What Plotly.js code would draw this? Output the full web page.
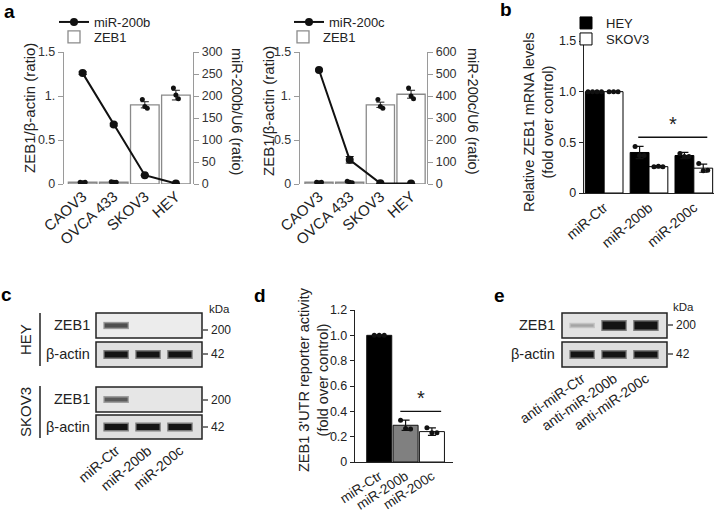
<!DOCTYPE html>
<html><head><meta charset="utf-8">
<script src="https://cdn.plot.ly/plotly-3.0.1.min.js"></script>
<style>html,body{margin:0;padding:0;background:#fff}#chart{width:718px;height:512px}</style>
</head><body><div id="chart"></div>
<script>
// ================= DATA =================
// panel a
const cellLines = ["CAOV3", "OVCA 433", "SKOV3", "HEY"];
const zeb1RatioA1 = [0.02, 0.02, 0.90, 1.01];
const zeb1ErrA1 = [0.005, 0.005, 0.035, 0.055];
const zeb1DotsA1 = [[0.02, 0.015, 0.02], [0.025, 0.02, 0.02], [0.96, 0.88, 0.86], [1.09, 1.01, 0.97]];
const miR200bLevels = [252, 135, 20, 1];
const miR200bErr = [3, 3, 1, 0];
const zeb1RatioA2 = [0.02, 0.02, 0.90, 1.02];
const zeb1ErrA2 = [0.005, 0.005, 0.03, 0.045];
const zeb1DotsA2 = [[0.02, 0.015, 0.02], [0.03, 0.02, 0.015], [0.96, 0.88, 0.86], [1.09, 1.00, 0.97]];
const miR200cLevels = [518, 110, 3, 2];
const miR200cErr = [4, 15, 1, 0];
const leftTicksA = [0, 0.5, 1, 1.5];
const leftTickTextA = ["0", "0.5", "1.", "1.5"];

// panel b
const treatments = ["miR-Ctr", "miR-200b", "miR-200c"];
const heyMRNA = [1.0, 0.40, 0.37];
const heyMRNAErr = [0.003, 0.06, 0.03];
const heyMRNADots = [[1, 1, 1, 1], [0.46, 0.37, 0.37], [0.39, 0.36, 0.36]];
const skov3MRNA = [1.0, 0.26, 0.245];
const skov3MRNAErr = [0.003, 0.01, 0.04];
const skov3MRNADots = [[1, 1, 1], [0.26, 0.265, 0.26], [0.29, 0.22, 0.225]];
const sigB = { from: 0.76, to: 2.3, y: 0.55 };
const ticksB = [0, 0.5, 1, 1.5];
const tickTextB = ["0", "0.5", "1.0", "1.5"];

// panel d
const reporterActivity = [1.0, 0.29, 0.24];
const reporterErr = [0.003, 0.04, 0.03];
const reporterDots = [[1, 1, 1], [0.33, 0.265, 0.26], [0.27, 0.23, 0.23]];
const sigD = { from: 0.8, to: 2.35, y: 0.40 };
const ticksD = [0, 0.2, 0.4, 0.6, 0.8, 1.0, 1.2];
const tickTextD = ["0", "0.2", "0.4", "0.6", "0.8", "1.0", "1.2"];

// panels c and e (western blot band intensities, 0-1)
const blotLanesC = ["miR-Ctr", "miR-200b", "miR-200c"];
const blotLanesE = ["anti-miR-Ctr", "anti-miR-200b", "anti-miR-200c"];
const heyZeb1Bands = [0.72, 0, 0];
const heyActinBands = [1, 1, 1];
const skov3Zeb1Bands = [0.66, 0.04, 0.06];
const skov3ActinBands = [1, 1, 1];
const antiZeb1Bands = [0.3, 1, 1];
const antiActinBands = [1, 1, 1];

// ================= HELPERS =================
const W = 718, H = 512;
const PX = x => x / W;
const PY = y => 1 - y / H;
const FONT = "Liberation Sans, Arial, sans-serif";
const idx = arr => arr.map((_, i) => i);
function spread(n, step) { return Array.from({ length: n }, (_, k) => (k - (n - 1) / 2) * step); }
function dotTrace(dots, centers, step, xa, ya, color) {
  const xs = [], ys = [];
  dots.forEach((grp, i) => {
    const off = spread(grp.length, step);
    grp.forEach((v, k) => { xs.push(centers[i] + off[k]); ys.push(v); });
  });
  return { type: 'scatter', mode: 'markers', x: xs, y: ys, xaxis: xa, yaxis: ya,
    marker: { color: color || '#111', size: 5 }, showlegend: false, hoverinfo: 'skip' };
}
function bandTraces(vals, xa, ya, thick) {
  const out = [];
  vals.forEach((v, i) => {
    if (v < 0.08) return;
    const g = Math.round(226 - 206 * v);
    const h = Math.round((g + 226) / 2);
    out.push({ type: 'scatter', mode: 'lines', x: [i - 0.40, i + 0.40], y: [0, 0], xaxis: xa, yaxis: ya,
      line: { color: `rgb(${h},${h},${h})`, width: thick * v + 3 }, showlegend: false, hoverinfo: 'skip' });
    out.push({ type: 'scatter', mode: 'lines', x: [i - 0.36, i + 0.36], y: [0, 0], xaxis: xa, yaxis: ya,
      line: { color: `rgb(${g},${g},${g})`, width: thick * v }, showlegend: false, hoverinfo: 'skip' });
  });
  out.push({ type: 'scatter', mode: 'markers', x: [0], y: [0], xaxis: xa, yaxis: ya,
    marker: { opacity: 0 }, showlegend: false, hoverinfo: 'skip' });
  return out;
}
function sigTrace(sig, xa, ya) {
  return { type: 'scatter', mode: 'lines', x: [sig.from, sig.to], y: [sig.y, sig.y], xaxis: xa, yaxis: ya,
    line: { color: '#111', width: 1.3 }, showlegend: false, hoverinfo: 'skip' };
}

// ================= TRACES =================
const traces = [];
function panelA(zeb, zebErr, zebDots, mir, mirErr, mirName, xa, ya, xa2, ya2, legLine, legBar) {
  const xs = idx(cellLines);
  traces.push({ type: 'bar', x: xs, y: zeb, width: 0.92, xaxis: xa, yaxis: ya, name: 'ZEB1', legend: legBar,
    marker: { color: '#fff', line: { color: '#8a8a8a', width: 1.3 } },
    error_y: { type: 'data', array: zebErr, color: '#222', thickness: 1, width: 4 } });
  traces.push(dotTrace(zebDots, xs, 0.08, xa, ya));
  traces.push({ type: 'scatter', mode: 'lines+markers', x: xs, y: mir, xaxis: xa2, yaxis: ya2, name: mirName, legend: legLine,
    line: { color: '#111', width: 2 }, marker: { color: '#111', size: 8 },
    error_y: { type: 'data', array: mirErr, color: '#111', thickness: 1, width: 4 } });
}
panelA(zeb1RatioA1, zeb1ErrA1, zeb1DotsA1, miR200bLevels, miR200bErr, 'miR-200b', 'x', 'y', 'x7', 'y2', 'legend', 'legend2');
panelA(zeb1RatioA2, zeb1ErrA2, zeb1DotsA2, miR200cLevels, miR200cErr, 'miR-200c', 'x2', 'y3', 'x8', 'y4', 'legend3', 'legend4');

// panel b
const bw = 0.42;
const tb = idx(treatments);
traces.push({ type: 'bar', x: tb, y: heyMRNA, width: bw, offset: -bw, xaxis: 'x3', yaxis: 'y5', name: 'HEY', legend: 'legend5',
  marker: { color: '#000', line: { color: '#000', width: 1 } },
  error_y: { type: 'data', array: heyMRNAErr, color: '#111', thickness: 1.2, width: 4 } });
traces.push({ type: 'bar', x: tb, y: skov3MRNA, width: bw, offset: 0, xaxis: 'x3', yaxis: 'y5', name: 'SKOV3', legend: 'legend6',
  marker: { color: '#fff', line: { color: '#000', width: 1 } },
  error_y: { type: 'data', array: skov3MRNAErr, color: '#111', thickness: 1.2, width: 4 } });
traces.push(dotTrace(heyMRNADots, tb.map(i => i - bw / 2), 0.1, 'x3', 'y5'));
traces.push(dotTrace(skov3MRNADots, tb.map(i => i + bw / 2), 0.1, 'x3', 'y5'));
traces.push(sigTrace(sigB, 'x3', 'y5'));

// panel d
traces.push({ type: 'bar', x: tb, y: reporterActivity, width: 0.95, xaxis: 'x4', yaxis: 'y6', showlegend: false,
  marker: { color: ['#000', '#808080', '#fff'], line: { color: '#111', width: 1 } },
  error_y: { type: 'data', array: reporterErr, color: '#111', thickness: 1.2, width: 4 } });
traces.push(dotTrace(reporterDots, tb, 0.19, 'x4', 'y6'));
traces.push(sigTrace(sigD, 'x4', 'y6'));

// blots
traces.push(...bandTraces(heyZeb1Bands, 'x5', 'y7', 6));
traces.push(...bandTraces(heyActinBands, 'x5', 'y8', 6));
traces.push(...bandTraces(skov3Zeb1Bands, 'x5', 'y9', 6));
traces.push(...bandTraces(skov3ActinBands, 'x5', 'y10', 6));
traces.push(...bandTraces(antiZeb1Bands, 'x6', 'y11', 8));
traces.push(...bandTraces(antiActinBands, 'x6', 'y12', 6));

// ================= LAYOUT =================
const greyAxis = { showline: true, linecolor: '#9a9a9a', linewidth: 1.2, ticks: 'outside', ticklen: 5, tickcolor: '#9a9a9a',
  showgrid: false, zeroline: false, tickfont: { size: 12.5, color: '#333' }, fixedrange: true };
const blackAxis = { showline: true, linecolor: '#222', linewidth: 1.2, ticks: 'outside', ticklen: 4, tickcolor: '#222',
  showgrid: false, zeroline: false, tickfont: { size: 12.5, color: '#222' }, fixedrange: true };
function catAxis(extra) {
  return Object.assign({ showline: false, ticks: '', showgrid: false, zeroline: false, tickangle: -40,
    tickfont: { size: 14, color: '#222', family: FONT }, fixedrange: true, automargin: false }, extra);
}
const hiddenX = { visible: false, fixedrange: true, showgrid: false, zeroline: false };
const blotY = { visible: false, range: [-1, 1], fixedrange: true };
const domA = [PY(184), PY(52)];
const domA1x = [PX(64), PX(193)], domA2x = [PX(300), PX(427)];
const rangeA1 = [-0.6, 3.55], rangeA2 = [-0.62, 3.52];

const layout = {
  width: W, height: H, margin: { l: 0, r: 0, t: 0, b: 0 }, paper_bgcolor: '#fff', plot_bgcolor: 'rgba(0,0,0,0)',
  font: { family: FONT, color: '#222' }, barmode: 'overlay', showlegend: true,
  xaxis: catAxis({ domain: domA1x, range: rangeA1, tickvals: idx(cellLines), ticktext: cellLines, anchor: 'y', tickangle: -42,
    tickfont: { size: 15, color: '#222', family: FONT } }),
  yaxis: Object.assign({}, greyAxis, { domain: domA, range: [0, 1.5], tickvals: leftTicksA, ticktext: leftTickTextA, anchor: 'x' }),
  xaxis7: Object.assign({}, hiddenX, { domain: domA1x, range: rangeA1, anchor: 'y2' }),
  yaxis2: Object.assign({}, greyAxis, { domain: domA, side: 'right', range: [0, 300], dtick: 50, anchor: 'x7' }),
  xaxis2: catAxis({ domain: domA2x, range: rangeA2, tickvals: idx(cellLines), ticktext: cellLines, anchor: 'y3', tickangle: -42,
    tickfont: { size: 15, color: '#222', family: FONT } }),
  yaxis3: Object.assign({}, greyAxis, { domain: domA, range: [0, 1.5], tickvals: leftTicksA, ticktext: leftTickTextA, anchor: 'x2' }),
  xaxis8: Object.assign({}, hiddenX, { domain: domA2x, range: rangeA2, anchor: 'y4' }),
  yaxis4: Object.assign({}, greyAxis, { domain: domA, side: 'right', range: [0, 600], dtick: 100, anchor: 'x8' }),
  xaxis3: catAxis({ domain: [PX(584), PX(714)], range: [-0.45, 2.45], tickvals: tb, ticktext: treatments,
    showline: true, linecolor: '#222', linewidth: 1.2, anchor: 'y5' }),
  yaxis5: Object.assign({}, blackAxis, { domain: [PY(193), PY(41)], range: [0, 1.5], tickvals: ticksB, ticktext: tickTextB, anchor: 'x3' }),
  xaxis4: catAxis({ domain: [PX(355), PX(453)], range: [-0.92, 2.8], tickvals: tb, ticktext: treatments, tickangle: -33,
    showline: true, linecolor: '#222', linewidth: 1.2, anchor: 'y6', tickfont: { size: 13.5, color: '#222', family: FONT } }),
  yaxis6: Object.assign({}, blackAxis, { domain: [PY(462), PY(310)], range: [0, 1.2], tickvals: ticksD, ticktext: tickTextD, anchor: 'x4' }),
  xaxis5: catAxis({ domain: [PX(96), PX(202)], range: [-0.63, 2.69], tickvals: [0, 1, 2], ticktext: blotLanesC, anchor: 'y10' }),
  yaxis7: Object.assign({}, blotY, { domain: [PY(338), PY(313)], anchor: 'x5' }),
  yaxis8: Object.assign({}, blotY, { domain: [PY(367), PY(342)], anchor: 'x5' }),
  yaxis9: Object.assign({}, blotY, { domain: [PY(412), PY(387)], anchor: 'x5' }),
  yaxis10: Object.assign({}, blotY, { domain: [PY(439), PY(415)], anchor: 'x5' }),
  xaxis6: catAxis({ domain: [PX(562), PX(667)], range: [-0.63, 2.66], tickvals: [0, 1, 2], ticktext: blotLanesE, anchor: 'y12', tickangle: -35 }),
  yaxis11: Object.assign({}, blotY, { domain: [PY(338), PY(313)], anchor: 'x6' }),
  yaxis12: Object.assign({}, blotY, { domain: [PY(367), PY(342)], anchor: 'x6' }),
  shapes: [], annotations: []
};

// legends
function leg(textX, rowY, size) {
  return { x: PX(textX - 43), y: PY(rowY - 10), xanchor: 'left', yanchor: 'top', bgcolor: 'rgba(0,0,0,0)',
    borderwidth: 0, font: { size: size || 13, color: '#222', family: FONT }, itemwidth: 30, tracegroupgap: 0 };
}
layout.legend = leg(97, 17, 13);
layout.legend2 = leg(97, 32, 13);
layout.legend3 = leg(332, 17, 13);
layout.legend4 = leg(326, 32, 13);
layout.legend5 = leg(609, 18, 13);
layout.legend6 = leg(609, 34, 13);

// blot boxes
[['x5', 'y7', '#ececec'], ['x5', 'y8', '#e0e0e0'], ['x5', 'y9', '#e6e6e6'], ['x5', 'y10', '#e0e0e0'],
 ['x6', 'y11', '#e2e2e2'], ['x6', 'y12', '#dedede']].forEach(([xa, ya, c]) => {
  layout.shapes.push({ type: 'rect', xref: xa + ' domain', yref: ya + ' domain', x0: 0, x1: 1, y0: 0, y1: 1,
    fillcolor: c, line: { color: '#222', width: 1.5 }, layer: 'below' });
});
function pline(x0, y0, x1, y1, w) {
  layout.shapes.push({ type: 'line', xref: 'paper', yref: 'paper', x0: PX(x0), y0: PY(y0), x1: PX(x1), y1: PY(y1),
    line: { color: '#222', width: w || 1.2 } });
}
function ann(text, x, y, o) {
  layout.annotations.push(Object.assign({ text: text, xref: 'paper', yref: 'paper', x: PX(x), y: PY(y), showarrow: false,
    xanchor: 'center', yanchor: 'middle', font: { size: 14, color: '#222', family: FONT } }, o || {}));
}
const tf = s => ({ size: s, color: '#222', family: FONT });

// bracket lines for HEY / SKOV3
pline(40, 313, 40, 366, 1.5);
pline(40, 386, 40, 438, 1.5);
// kDa ticks
pline(203, 330, 208, 330); pline(203, 354, 208, 354);
pline(203, 400, 208, 400); pline(203, 427, 208, 427);
pline(668, 325, 673, 325); pline(668, 354, 673, 354);

// panel letters
const bold = () => ({ font: { size: 19, color: '#000', family: FONT } });
ann('<b>a</b>', 9, 11, bold()); ann('<b>b</b>', 506, 9, bold()); ann('<b>c</b>', 6, 294, bold());
ann('<b>d</b>', 260, 295, bold()); ann('<b>e</b>', 499, 295, bold());

// axis titles
ann('ZEB1/β-actin (ratio)', 29, 108, { textangle: -90, font: tf(15) });
ann('miR-200b/U6 (ratio)', 237, 111, { textangle: 90, font: tf(14.5) });
ann('ZEB1/β-actin (ratio)', 268, 111, { textangle: -90, font: tf(15) });
ann('miR-200c/U6 (ratio)', 473, 111, { textangle: 90, font: tf(14.5) });
ann('Relative ZEB1 mRNA levels<br>(fold over control)', 538, 122, { textangle: -90, font: tf(14.5) });
ann("ZEB1 3'UTR reporter activity<br>(fold over control)", 313, 380, { textangle: -90, font: tf(14.5) });

// significance stars
layout.annotations.push({ text: '*', xref: 'x3', yref: 'y5', x: (sigB.from + sigB.to) / 2, y: sigB.y, xanchor: 'center', yanchor: 'bottom',
  showarrow: false, font: tf(20) });
layout.annotations.push({ text: '*', xref: 'x4', yref: 'y6', x: (sigD.from + sigD.to) / 2, y: sigD.y, xanchor: 'center', yanchor: 'bottom',
  showarrow: false, font: tf(20) });

// blot labels
const rl = { xanchor: 'right', font: tf(14.5) };
ann('ZEB1', 92, 325, rl); ann('β-actin', 92, 354, rl); ann('ZEB1', 92, 399, rl); ann('β-actin', 92, 427, rl);
ann('ZEB1', 557, 325, rl); ann('β-actin', 557, 354, rl);
ann('HEY', 25, 340, { textangle: -90, font: tf(15) });
ann('SKOV3', 25, 412, { textangle: -90, font: tf(15) });
const kd = { xanchor: 'left', font: tf(12) };
ann('kDa', 207, 309, { xanchor: 'left', font: tf(11.5) });
ann('200', 209, 330, kd); ann('42', 209, 354, kd); ann('200', 209, 400, kd); ann('42', 209, 427, kd);
ann('kDa', 671, 307, { xanchor: 'left', font: tf(11.5) });
ann('200', 674, 325, kd); ann('42', 674, 354, kd);

Plotly.newPlot('chart', traces, layout, { displayModeBar: false, staticPlot: true });
</script></body></html>
